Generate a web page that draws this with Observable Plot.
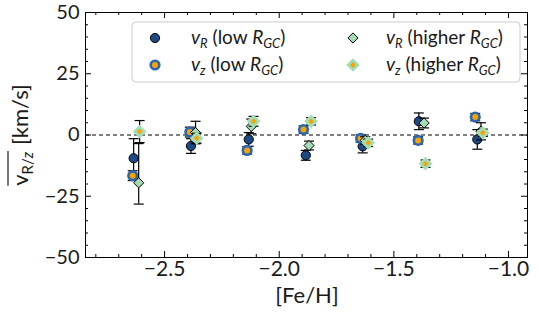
<!DOCTYPE html>
<html><head><meta charset="utf-8">
<script src="https://cdn.jsdelivr.net/npm/d3@7"></script>
<script src="https://cdn.jsdelivr.net/npm/@observablehq/plot@0.6"></script>
<style>body{margin:0;background:#fff} svg{font-family:Lato,sans-serif;overflow:visible}</style>
</head><body><div id="chart"></div>
<script>
// v_R (low R_GC)
const fehVRLow  = [-2.635, -2.385, -2.133, -1.884, -1.636, -1.391, -1.136];
const vRLow     = [-9.5, -4.5, -1.8, -8.3, -4.6, 5.6, -1.8];
const vRLowErrLo = [8, 3, 2.8, 2, 2.7, 3.4, 4];
const vRLowErrHi = [8, 3, 2.8, 2, 2.7, 3.4, 4];
// v_z (low R_GC)
const fehVzLow  = [-2.639, -2.390, -2.140, -1.894, -1.645, -1.394, -1.145];
const vzLow     = [-16.6, 1.2, -6.3, 2.2, -1.4, -2.2, 7.3];
const vzLowErrLo = [2, 2, 1.5, 1.5, 1.5, 1.5, 1.5];
const vzLowErrHi = [2, 2, 1.5, 1.5, 1.5, 1.5, 1.5];
// v_R (higher R_GC)
const fehVRHigh = [-2.613, -2.365, -2.122, -1.870, -1.625, -1.368, -1.120];
const vRHigh    = [-19.5, 1.0, 3.5, -4.3, -2.2, 4.9, 1.5];
const vRHighErrLo = [8.7, 4.6, 3, 1.8, 1.5, 2, 3.5];
const vRHighErrHi = [16, 4.6, 3, 1.8, 1.5, 2, 3.5];
// v_z (higher R_GC)
const fehVzHigh = [-2.609, -2.360, -2.112, -1.861, -1.612, -1.362, -1.112];
const vzHigh    = [1.4, -1.3, 5.6, 5.6, -3.2, -11.7, 0.9];
const vzHighErrLo = [4.5, 2, 2, 1.5, 1.5, 1.5, 1.5];
const vzHighErrHi = [4.5, 2, 2, 1.5, 1.5, 1.5, 1.5];

const xMajorTicks = [-2.5, -2.0, -1.5, -1.0];
const xMinorTicks = [-2.8, -2.7, -2.6, -2.4, -2.3, -2.2, -2.1, -1.9, -1.8, -1.7, -1.6, -1.4, -1.3, -1.2, -1.1];
const yMajorTicks = [-50, -25, 0, 25, 50];
const yMinorTicks = [-45, -40, -35, -30, -20, -15, -10, -5, 5, 10, 15, 20, 30, 35, 40, 45];

const W = 538, H = 314, mL = 85, mR = 11, mT = 12, mB = 57;
const innerH = H - mT - mB, innerW = W - mL - mR;

const DARK = "#1b4a84", BLUE = "#2c66b0", ORANGE = "#f7a400", GREEN = "#a4dcb4";
const TXT = "#1a1a1a";

const capSymbol = {draw(ctx, size) { const w = Math.sqrt(size / Math.PI); ctx.moveTo(-w, 0); ctx.lineTo(w, 0); }};

function seriesMarks(feh, val, errLo, errHi, style) {
  const rows = feh.map((x, i) => ({x, y: val[i], lo: val[i] - errLo[i], hi: val[i] + errHi[i]}));
  const caps = rows.flatMap(d => [{x: d.x, y: d.lo}, {x: d.x, y: d.hi}]);
  return [
    Plot.ruleX(rows, {x: "x", y1: "lo", y2: "hi", stroke: "black", strokeWidth: 1.2}),
    Plot.dot(caps, {x: "x", y: "y", symbol: capSymbol, r: 5, stroke: "black", strokeWidth: 1.2, fill: "none"}),
    Plot.dot(rows, {x: "x", y: "y", ...style})
  ];
}

const styles = [
  {symbol: "circle", r: 4.6, fill: DARK, stroke: "black", strokeWidth: 1},
  {symbol: "circle", r: 4.3, fill: ORANGE, stroke: BLUE, strokeWidth: 2.6},
  {symbol: "diamond2", r: 4.6, fill: GREEN, stroke: "black", strokeWidth: 1},
  {symbol: "diamond2", r: 4.4, fill: ORANGE, stroke: GREEN, strokeWidth: 2.8}
];

const chart = Plot.plot({
  width: W, height: H,
  marginLeft: mL, marginRight: mR, marginTop: mT, marginBottom: mB,
  x: {domain: [-2.845, -0.917]},
  y: {domain: [-50, 50]},
  marks: [
    Plot.ruleY([0], {stroke: "black", strokeWidth: 1.2, strokeDasharray: "4,3"}),
    ...seriesMarks(fehVRLow, vRLow, vRLowErrLo, vRLowErrHi, styles[0]),
    ...seriesMarks(fehVzLow, vzLow, vzLowErrLo, vzLowErrHi, styles[1]),
    ...seriesMarks(fehVRHigh, vRHigh, vRHighErrLo, vRHighErrHi, styles[2]),
    ...seriesMarks(fehVzHigh, vzHigh, vzHighErrLo, vzHighErrHi, styles[3]),
    // inward ticks on all four sides
    Plot.ruleX(xMajorTicks, {insetTop: innerH - 6, stroke: "black"}),
    Plot.ruleX(xMajorTicks, {insetBottom: innerH - 6, stroke: "black"}),
    Plot.ruleX(xMinorTicks, {insetTop: innerH - 3, stroke: "black"}),
    Plot.ruleX(xMinorTicks, {insetBottom: innerH - 3, stroke: "black"}),
    Plot.ruleY(yMajorTicks, {insetRight: innerW - 6, stroke: "black"}),
    Plot.ruleY(yMajorTicks, {insetLeft: innerW - 6, stroke: "black"}),
    Plot.ruleY(yMinorTicks, {insetRight: innerW - 3, stroke: "black"}),
    Plot.ruleY(yMinorTicks, {insetLeft: innerW - 3, stroke: "black"}),
    Plot.frame({stroke: "black", strokeWidth: 1}),
    Plot.axisX({ticks: xMajorTicks, tickSize: 0, tickPadding: 4, fontSize: 21, label: null, tickFormat: d3.format(".1f")}),
    Plot.axisY({ticks: yMajorTicks, tickSize: 0, tickPadding: 6, fontSize: 20, label: null, tickFormat: d3.format("d")})
  ]
});
document.getElementById("chart").appendChild(chart);

const svg = d3.select(chart);
svg.style("color", TXT);

// x label
svg.append("text").attr("x", 307).attr("y", 303).attr("text-anchor", "middle")
  .attr("font-size", 22).attr("fill", TXT).text("[Fe/H]");

// y label with overline
const yl = svg.append("g").attr("transform", "translate(28,135) rotate(-90)")
  .attr("font-size", 22).attr("fill", TXT).attr("text-anchor", "start");
const t1 = yl.append("text").attr("x", 0).attr("y", 0);
t1.append("tspan").text("v");
t1.append("tspan").attr("font-size", 15).attr("dy", 5).text("R/");
t1.append("tspan").attr("font-size", 15).attr("font-style", "italic").text("z");
const t2 = yl.append("text").attr("y", 0).text("[km/s]");
const w1 = t1.node().getComputedTextLength();
const gap = 7;
const w2 = t2.node().getComputedTextLength();
const total = w1 + gap + w2;
t1.attr("x", -total / 2);
t2.attr("x", -total / 2 + w1 + gap);
yl.append("line").attr("x1", -total / 2).attr("x2", -total / 2 + w1 + 1)
  .attr("y1", -20).attr("y2", -20).attr("stroke", TXT).attr("stroke-width", 1.2);

// legend
const lg = svg.append("g").attr("text-anchor", "start");
lg.append("rect").attr("x", 132).attr("y", 22).attr("width", 388).attr("height", 60).attr("rx", 4)
  .attr("fill", "white").attr("fill-opacity", 0.85).attr("stroke", "#cccccc").attr("stroke-width", 1);
const legendItems = [
  {cx: 155, cy: 38, tx: 191, style: styles[0], sub: "R", tail: "low "},
  {cx: 155, cy: 65, tx: 191, style: styles[1], sub: "z", tail: "low "},
  {cx: 353, cy: 38, tx: 386, style: styles[2], sub: "R", tail: "higher "},
  {cx: 353, cy: 65, tx: 386, style: styles[3], sub: "z", tail: "higher "}
];
legendItems.forEach(it => {
  const s = it.style;
  const type = s.symbol === "circle" ? d3.symbolCircle : d3.symbolDiamond2;
  lg.append("path").attr("transform", `translate(${it.cx},${it.cy})`)
    .attr("d", d3.symbol(type, Math.PI * s.r * s.r)())
    .attr("fill", s.fill).attr("stroke", s.stroke).attr("stroke-width", s.strokeWidth);
  const t = lg.append("text").attr("x", it.tx).attr("y", it.cy + 6).attr("font-size", 19).attr("fill", TXT);
  t.append("tspan").attr("font-style", "italic").text("v");
  t.append("tspan").attr("font-style", "italic").attr("font-size", 13).attr("dy", 4).text(it.sub);
  t.append("tspan").attr("dy", -4).text(" (" + it.tail);
  t.append("tspan").attr("font-style", "italic").text("R");
  t.append("tspan").attr("font-style", "italic").attr("font-size", 13).attr("dy", 4).text("GC");
  t.append("tspan").attr("dy", -4).text(")");
});
</script></body></html>
